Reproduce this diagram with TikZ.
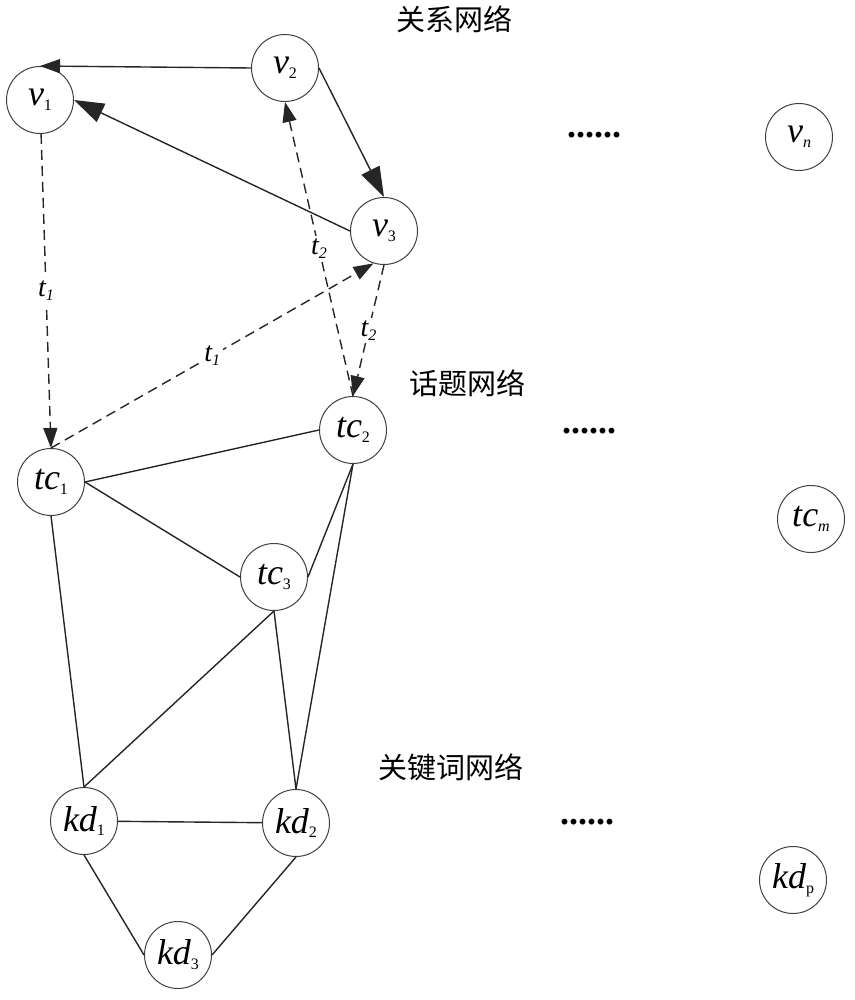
\documentclass[tikz,border=0pt]{standalone}
\usepackage{fontspec}
\setmainfont{Liberation Serif}
\newfontfamily\cjk{Noto Sans CJK SC}
\usetikzlibrary{arrows.meta}
\newcommand{\nsub}[1]{\raisebox{-0.3ex}{\fontsize{8}{8}\selectfont #1}}

\begin{document}
\begin{tikzpicture}[x=0.5pt, y=-0.5pt, >={Triangle[length=10pt,width=7pt]},
    every node/.style={inner sep=0pt},
    vtx/.style={circle, draw=black!75, line width=0.5pt, minimum size=33.5pt, font=\fontsize{18}{18}\selectfont\itshape},
    link/.style={draw=black!85, line width=0.7pt},
    biglink/.style={link, -{Triangle[length=15pt,width=10pt]}},
    tlink/.style={draw=black!85, line width=0.7pt, dash pattern=on 5pt off 3pt},
    tlab/.style={fill=white, inner sep=1.5pt, font=\fontsize{14}{14}\selectfont\itshape},
    title/.style={font=\fontsize{14.5}{15}\cjk},
    more/.style={font=\fontsize{18}{18}\selectfont\bfseries}]
    \useasboundingbox (0,0) rectangle (855,1000);

    % Layer titles
    \node[title] (relT) at (454,19) {关系网络};
    \node[title] (topT) at (467,383) {话题网络};
    \node[title] (keyT) at (451,767) {关键词网络};

    % Dots
    \node[more] (relD) at (594,135) {......};
    \node[more] (topD) at (589,431) {......};
    \node[more] (keyD) at (587,822) {......};

    % User nodes
    \node[vtx] (v1) at (40,100) {v\nsub{\upshape 1}};
    \node[vtx] (v2) at (285,68) {v\nsub{\upshape 2}};
    \node[vtx] (v3) at (384,231) {v\nsub{\upshape 3}};
    \node[vtx] (vn) at (799,137) {v\nsub{n}};

    % Topic nodes
    \node[vtx] (tc1) at (51,482) {tc\nsub{\upshape 1}};
    \node[vtx] (tc2) at (353,430) {tc\nsub{\upshape 2}};
    \node[vtx] (tc3) at (274,577) {tc\nsub{\upshape 3}};
    \node[vtx] (tcm) at (811,519) {tc\nsub{m}};

    % Keyword nodes
    \node[vtx] (kd1) at (84,821) {kd\nsub{\upshape 1}};
    \node[vtx] (kd2) at (296,823) {kd\nsub{\upshape 2}};
    \node[vtx] (kd3) at (178,955) {kd\nsub{\upshape 3}};
    \node[vtx] (kdp) at (793,880) {kd\nsub{\upshape p}};

    % Relations between users
    \draw[link,->] (v2.west) -- (v1.north);
    \draw[biglink] (v3.west) -- (v1.east);
    \draw[biglink] (v2.east) -- (v3.north);

    % Users and topics
    \draw[tlink,->] (v1) -- (tc1.north) node[tlab, midway] {t\nsub{1}};
    \draw[tlink,->] (tc1.north) -- (v3.252) node[tlab, midway] {t\nsub{1}};
    \draw[tlink,->] (tc2.north) -- (v2.south) node[tlab, midway] {t\nsub{2}};
    \draw[tlink,->] (v3.south) -- (tc2.north) node[tlab, midway] {t\nsub{2}};

    % Topic and keyword links
    \draw[link] (tc1.east) -- (tc2.west);
    \draw[link] (tc1.east) -- (tc3.west);
    \draw[link] (tc1.south) -- (kd1.north);
    \draw[link] (tc2.south) -- (tc3.east);
    \draw[link] (tc2.south) -- (kd2.north);
    \draw[link] (tc3.south) -- (kd1.north);
    \draw[link] (tc3.south) -- (kd2.north);
    \draw[link] (kd1) -- (kd2);
    \draw[link] (kd1.south) -- (kd3.west);
    \draw[link] (kd2.south) -- (kd3.east);

\end{tikzpicture}
\end{document}
